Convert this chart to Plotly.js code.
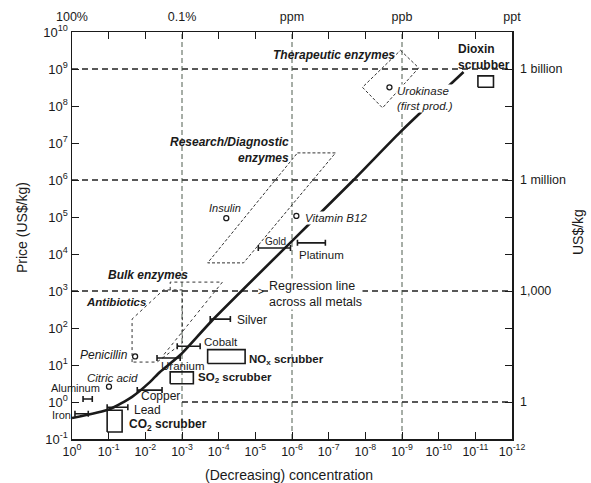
<!DOCTYPE html>
<html><head><meta charset="utf-8">
<script src="https://cdn.plot.ly/plotly-3.0.1.min.js"></script>
<style>html,body{margin:0;padding:0;background:#fff}#chart{width:591px;height:483px}</style>
</head><body><div id="chart"></div>
<script>
// ---------- axis ticks ----------
const xTickVals = [1,1e-1,1e-2,1e-3,1e-4,1e-5,1e-6,1e-7,1e-8,1e-9,1e-10,1e-11,1e-12];
const xTickText = ['10<sup>0</sup>','10<sup>-1</sup>','10<sup>-2</sup>','10<sup>-3</sup>','10<sup>-4</sup>','10<sup>-5</sup>','10<sup>-6</sup>','10<sup>-7</sup>','10<sup>-8</sup>','10<sup>-9</sup>','10<sup>-10</sup>','10<sup>-11</sup>','10<sup>-12</sup>'];
const topTickVals = [1,1e-3,1e-6,1e-9,1e-12];
const topTickText = ['100%','0.1%','ppm','ppb','ppt'];
const yTickVals = [1e-1,1,1e1,1e2,1e3,1e4,1e5,1e6,1e7,1e8,1e9,1e10];
const yTickText = ['10<sup>-1</sup>','10<sup>0</sup>','10<sup>1</sup>','10<sup>2</sup>','10<sup>3</sup>','10<sup>4</sup>','10<sup>5</sup>','10<sup>6</sup>','10<sup>7</sup>','10<sup>8</sup>','10<sup>9</sup>','10<sup>10</sup>'];
const rightTickVals = [1,1e3,1e6,1e9];
const rightTickText = ['1','1,000','1 million','1 billion'];
const hGridVals = [1e3,1e6,1e9];
const hGridPartial = [1];
const vGridVals = [1e-3,1e-6,1e-9];

// ---------- regression line across all metals ----------
const regX = [1, 0.091, 0.023, 0.0074, 0.004, 0.00112, 1.6e-4, 2.1e-8, 1.1e-9, 2.1e-11];
const regY = [0.37, 0.65, 1.38, 3.5, 6.5, 18.6, 150, 1e6, 2e7, 8.3e8];

// ---------- metals (concentration range, price) ----------
const metalNames = ['Iron','Aluminum','Lead','Copper','Uranium','Cobalt','Silver','Gold','Platinum'];
const metalLo = [0.83, 0.5, 0.11, 0.0166, 0.0048, 0.00135, 1.7e-4, 8.3e-6, 7.1e-7];
const metalHi = [0.36, 0.28, 0.03, 0.0035, 0.00112, 3.2e-4, 4.8e-5, 1.1e-6, 1.23e-7];
const metalPrice = [0.48, 1.2, 0.72, 2.1, 15.5, 32, 174, 14500, 20000];

// ---------- bio products (points) ----------
const prodNames = ['Insulin','Vitamin B12','Urokinase','Penicillin','Citric acid'];
const prodConc = [6.2e-5, 7.6e-7, 2.2e-9, 0.019, 0.098];
const prodPrice = [93000, 1.07e5, 3.2e8, 17, 2.6];

// ---------- scrubbers (boxes) ----------
const scrubNames = ['NOx','SO2','CO2','Dioxin'];
const scrubX0 = [2.0e-4, 2.1e-3, 0.11, 8.5e-12];
const scrubX1 = [1.9e-5, 4.9e-4, 0.043, 3.2e-12];
const scrubY0 = [11, 3.1, 0.155, 3.2e8];
const scrubY1 = [26, 6.5, 0.6, 6.5e8];

// ---------- product class regions ----------
const therapX = [1.1e-9, 3.5e-10, 3.4e-9, 1.2e-8];
const therapY = [3.2e9, 1.07e9, 8.9e7, 3.2e8];
const researchX = [7.1e-7, 6.5e-8, 2.1e-5, 2.0e-4];
const researchY = [5.4e6, 5.4e6, 5750, 5750];
const antibX = [0.023, 0.023, 0.0032, 9.8e-4, 9.8e-4, 0.0048];
const antibY = [12, 174, 1070, 1070, 39, 12];
const bulkX = [0.0021, 0.0021, 7.9e-5, 0.0035];
const bulkY = [1070, 1740, 1740, 16.6];

const INK = '#1a1a1a';
const traces = [];
function closed(a){ return a.concat([a[0]]); }
function region(xs, ys, close, dash){
  traces.push({x: close?closed(xs):xs, y: close?closed(ys):ys, mode:'lines', type:'scatter',
    line:{color:'#333', width:1, dash:dash||'dot'}, hoverinfo:'skip'});
}
region(therapX, therapY, true, '3px,2px');
region(researchX, researchY, true, '3px,2px');
region(antibX, antibY, true, 'dot');
region(bulkX, bulkY, false, 'dot');

traces.push({x: regX, y: regY, mode:'lines', type:'scatter',
  line:{color:INK, width:2.6, shape:'spline', smoothing:0.6}, hoverinfo:'skip'});

const mc = metalLo.map((lo,i)=>Math.sqrt(lo*metalHi[i]));
traces.push({x: mc, y: metalPrice, mode:'markers', type:'scatter',
  marker:{size:1, color:'rgba(0,0,0,0)'},
  error_x:{type:'data', symmetric:false, array: mc.map((c,i)=>metalLo[i]-c), arrayminus: mc.map((c,i)=>c-metalHi[i]),
    color:INK, thickness:1.6, width:3}, hoverinfo:'skip'});

traces.push({x: prodConc, y: prodPrice, mode:'markers', type:'scatter',
  marker:{symbol:'circle-open', size:5, color:INK, line:{width:1.3, color:INK}}, hoverinfo:'skip'});

const bx=[], by=[];
scrubNames.forEach((n,i)=>{
  bx.push(scrubX0[i],scrubX1[i],scrubX1[i],scrubX0[i],scrubX0[i],null);
  by.push(scrubY0[i],scrubY0[i],scrubY1[i],scrubY1[i],scrubY0[i],null);
});
traces.push({x:bx, y:by, mode:'lines', type:'scatter', line:{color:INK, width:1.6}, hoverinfo:'skip', connectgaps:false});

// invisible anchors for the secondary axes
traces.push({x:[1], y:[1], xaxis:'x2', yaxis:'y', mode:'markers', marker:{opacity:0}, hoverinfo:'skip'});
traces.push({x:[1], y:[1], xaxis:'x', yaxis:'y2', mode:'markers', marker:{opacity:0}, hoverinfo:'skip'});

const shapes = [];
const hLine = {color:'#222', width:1.3, dash:'6px,4px'};
hGridVals.forEach(v=>shapes.push({type:'line', layer:'below', xref:'paper', x0:0, x1:1, yref:'y', y0:v, y1:v, line:hLine}));
hGridPartial.forEach(v=>shapes.push({type:'line', layer:'below', xref:'x', x0:vGridVals[0], x1:1e-12, yref:'y', y0:v, y1:v, line:hLine}));
vGridVals.forEach(v=>shapes.push({type:'line', layer:'below', yref:'paper', y0:0, y1:1, xref:'x', x0:v, x1:v,
  line:{color:'#3a4a3a', width:0.9, dash:'5px,3px'}}));

function px(x){ return (x-72)/440; }
function py(y){ return (439-y)/407; }
const anns = [];
function lab(text, x, y, xa, size, extra){
  anns.push(Object.assign({text:text, xref:'paper', yref:'paper', x:px(x), y:py(y), xanchor:xa||'left', yanchor:'middle',
    showarrow:false, font:{size:size||12, color:INK}, align:xa||'left', borderpad:0}, extra||{}));
}
lab('<b><i>Therapeutic enzymes</i></b>', 396, 55, 'right', 12);
lab('<b>Dioxin<br>scrubber</b>', 457, 57, 'left', 12);
lab('<i>Urokinase<br>(first prod.)</i>', 396, 98, 'left', 11.5, {bgcolor:'#fff'});
lab('<b><i>Research/Diagnostic<br>enzymes</i></b>', 290, 150, 'right', 12);
lab('<i>Insulin</i>', 225, 208, 'center', 11);
lab('<i>Vitamin B12</i>', 304, 218, 'left', 11.5, {bgcolor:'#fff'});
lab('Gold', 275, 241, 'center', 10);
lab('Platinum', 298, 255, 'left', 11.5);
lab('Regression line<br>across all metals', 268, 294, 'left', 12.5, {bgcolor:'#fff'});
lab('&gt;', 261, 291, 'center', 10);
lab('<b><i>Bulk enzymes</i></b>', 148, 275, 'center', 12);
lab('<b><i>Antibiotics</i></b>', 85, 302, 'left', 11.5);
lab('<i>Penicillin</i>', 129, 355, 'right', 12);
lab('Silver', 236, 320, 'left', 12);
lab('Cobalt', 203, 342, 'left', 11.5);
lab('Uranium', 160, 366, 'left', 11.5);
lab('<b>NO<sub>x</sub> scrubber</b>', 248, 360, 'left', 11.5);
lab('<b>SO<sub>2</sub> scrubber</b>', 197, 378, 'left', 11.5);
lab('<b>CO<sub>2</sub> scrubber</b>', 128, 425, 'left', 12);
lab('<i>Citric acid</i>', 86, 378, 'left', 11.5);
lab('Aluminum', 50, 388, 'left', 11);
lab('Iron', 51, 415, 'left', 11);
lab('Copper', 140, 396, 'left', 12);
lab('Lead', 133, 410, 'left', 12);
anns.push({text:'US$/kg', xref:'paper', yref:'paper', x:px(578), y:py(232), textangle:-90, showarrow:false,
  xanchor:'center', yanchor:'middle', font:{size:14, color:INK}});
anns.push({text:'Price (US$/kg)', xref:'paper', yref:'paper', x:px(22), y:py(228), textangle:-90, showarrow:false,
  xanchor:'center', yanchor:'middle', font:{size:14, color:INK}});
anns.push({text:'(Decreasing) concentration', xref:'paper', yref:'paper', x:px(289), y:py(475), showarrow:false,
  xanchor:'center', yanchor:'middle', font:{size:14, color:INK}});

const axCommon = {type:'log', showgrid:false, zeroline:false, showline:true, linecolor:INK, linewidth:1.5,
  ticks:'inside', ticklen:7, tickwidth:1, tickcolor:INK, tickfont:{size:12.5, color:INK}};

const layout = {
  width:591, height:483,
  margin:{l:72, r:79, t:32, b:44},
  paper_bgcolor:'#fff', plot_bgcolor:'#fff',
  showlegend:false,
  font:{family:'Liberation Sans, Arial, sans-serif', size:12, color:INK},
  xaxis:Object.assign({}, axCommon, {range:[0,-12], tickmode:'array', tickvals:xTickVals, ticktext:xTickText, anchor:'y'}),
  xaxis2:Object.assign({}, axCommon, {range:[0,-12], overlaying:'x', side:'top', anchor:'y', tickmode:'array',
    tickvals:topTickVals, ticktext:topTickText, ticklabelstandoff:5,
    minor:{tickmode:'array', tickvals:xTickVals, ticks:'inside', ticklen:7, tickwidth:1, tickcolor:INK, showgrid:false}}),
  yaxis:Object.assign({}, axCommon, {range:[-1,10], tickmode:'array', tickvals:yTickVals, ticktext:yTickText, anchor:'x',
    tickfont:{size:13, color:INK}}),
  yaxis2:Object.assign({}, axCommon, {range:[-1,10], overlaying:'y', side:'right', anchor:'x', tickmode:'array',
    tickvals:rightTickVals, ticktext:rightTickText, ticklabelstandoff:4,
    minor:{tickmode:'array', tickvals:yTickVals, ticks:'inside', ticklen:7, tickwidth:1, tickcolor:INK, showgrid:false}}),
  shapes:shapes,
  annotations:anns
};
Plotly.newPlot('chart', traces, layout, {displayModeBar:false, staticPlot:true});
</script>
</body></html>
